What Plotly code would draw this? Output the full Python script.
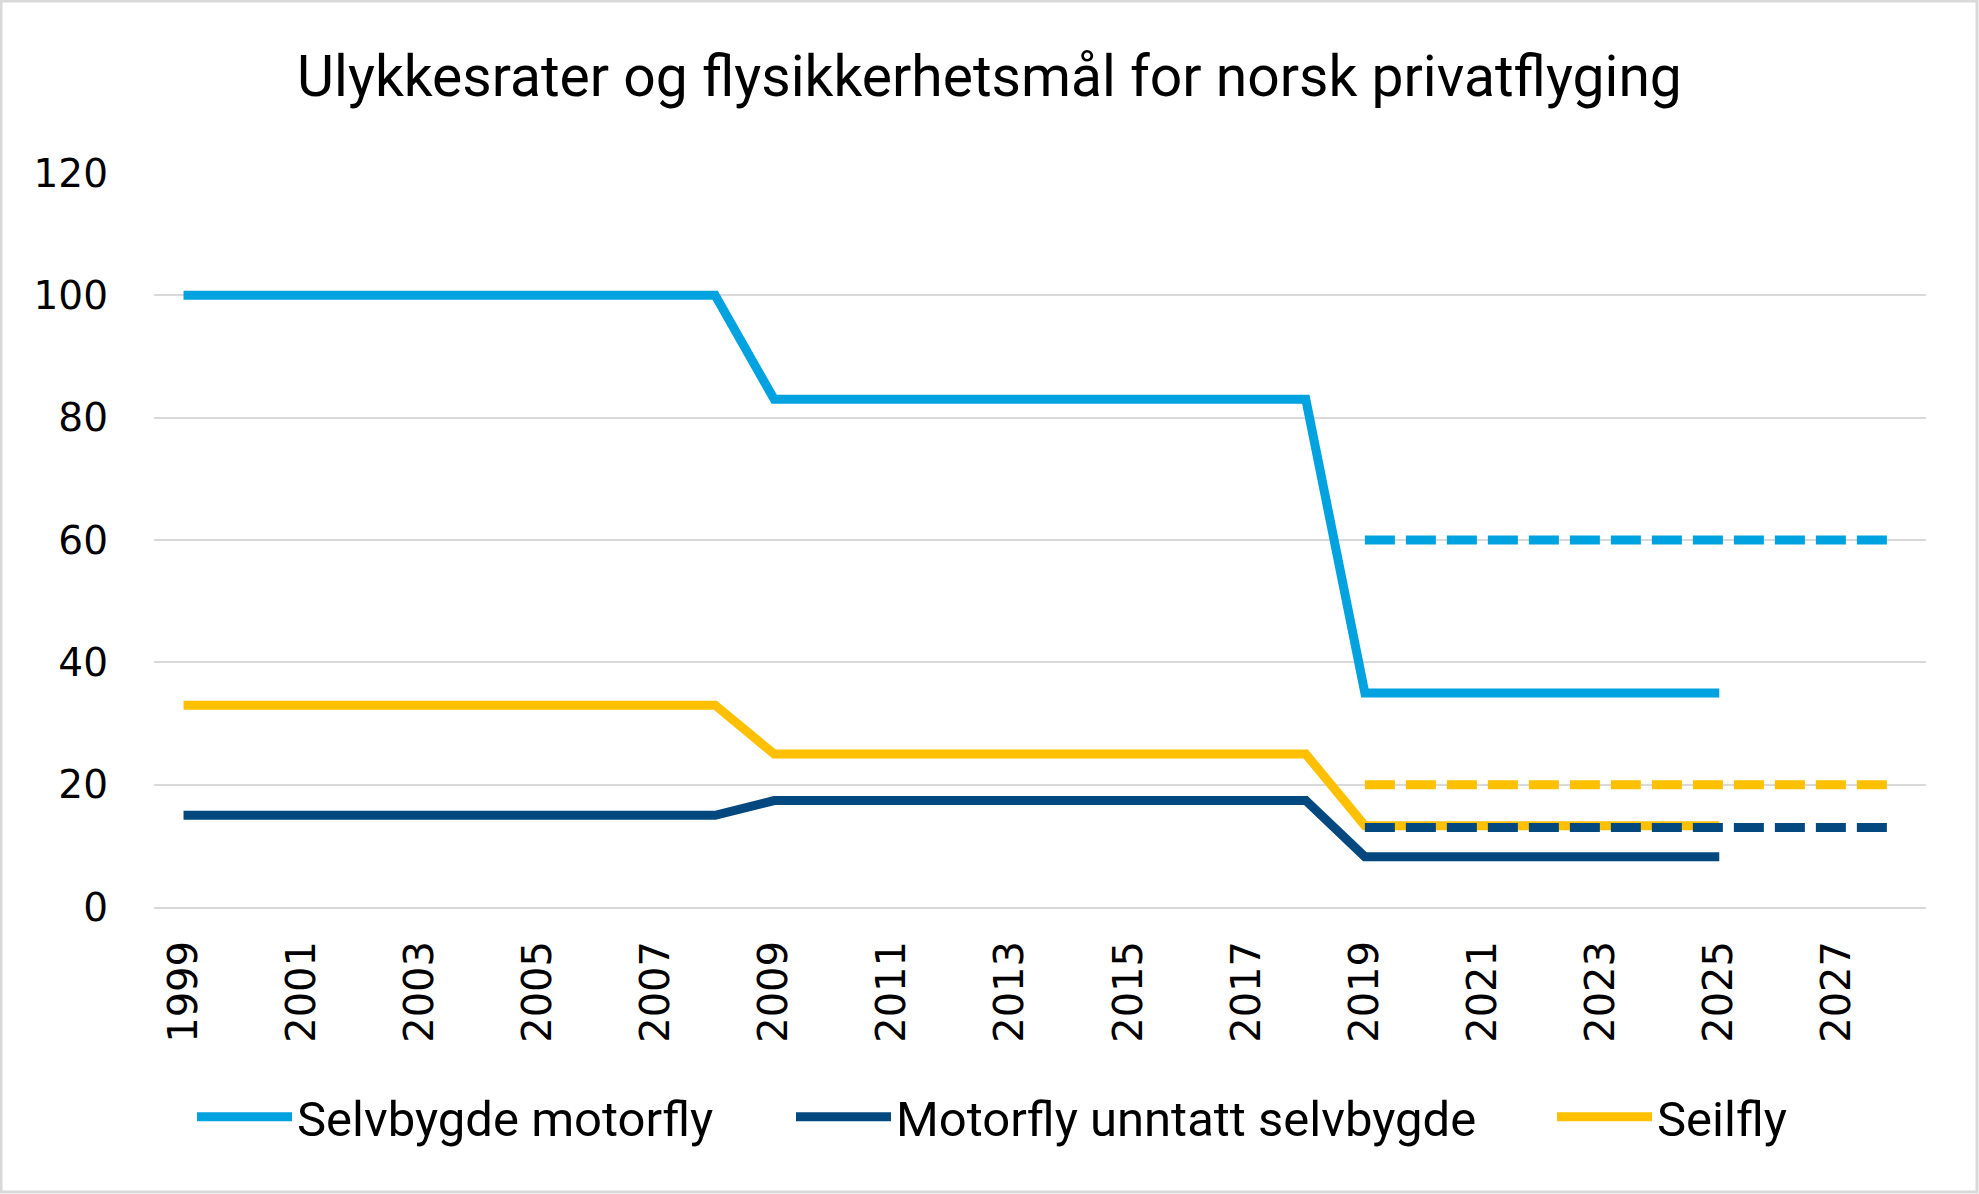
import plotly.graph_objects as go

years_actual = [1999, 2000, 2001, 2002, 2003, 2004, 2005, 2006, 2007, 2008,
                2009, 2010, 2011, 2012, 2013, 2014, 2015, 2016, 2017, 2018,
                2019, 2020, 2021, 2022, 2023, 2024, 2025]
selvbygde = [100, 100, 100, 100, 100, 100, 100, 100, 100, 100,
             83, 83, 83, 83, 83, 83, 83, 83, 83, 83,
             35, 35, 35, 35, 35, 35, 35]
motorfly = [15, 15, 15, 15, 15, 15, 15, 15, 15, 15,
            17.4, 17.4, 17.4, 17.4, 17.4, 17.4, 17.4, 17.4, 17.4, 17.4,
            8.2, 8.2, 8.2, 8.2, 8.2, 8.2, 8.2]
seilfly = [33, 33, 33, 33, 33, 33, 33, 33, 33, 33,
           25, 25, 25, 25, 25, 25, 25, 25, 25, 25,
           13.3, 13.3, 13.3, 13.3, 13.3, 13.3, 13.3]

years_target = [2019, 2020, 2021, 2022, 2023, 2024, 2025, 2026, 2027, 2028]
mal_selvbygde = [60, 60, 60, 60, 60, 60, 60, 60, 60, 60]
mal_motorfly = [13, 13, 13, 13, 13, 13, 13, 13, 13, 13]
mal_seilfly = [20, 20, 20, 20, 20, 20, 20, 20, 20, 20]

tick_years = [1999, 2001, 2003, 2005, 2007, 2009, 2011, 2013, 2015, 2017,
              2019, 2021, 2023, 2025, 2027]
y_ticks = [0, 20, 40, 60, 80, 100, 120]

C_LIGHT = "#00A2DF"
C_NAVY = "#03497F"
C_GOLD = "#FFC000"

W, H = 1979, 1194
L, R, T, B = 154, 53, 173, 287

fig = go.Figure()
lw = 9
fig.add_trace(go.Scatter(x=years_actual, y=selvbygde, mode="lines", name="Selvbygde motorfly",
                         legend="legend", line=dict(color=C_LIGHT, width=lw)))
fig.add_trace(go.Scatter(x=years_actual, y=motorfly, mode="lines", name="Motorfly unntatt selvbygde",
                         legend="legend2", line=dict(color=C_NAVY, width=lw)))
fig.add_trace(go.Scatter(x=years_actual, y=seilfly, mode="lines", name="Seilfly",
                         legend="legend3", line=dict(color=C_GOLD, width=lw)))
dash = "30px,11px"
fig.add_trace(go.Scatter(x=years_target, y=mal_selvbygde, mode="lines", showlegend=False,
                         line=dict(color=C_LIGHT, width=lw, dash=dash)))
fig.add_trace(go.Scatter(x=years_target, y=mal_seilfly, mode="lines", showlegend=False,
                         line=dict(color=C_GOLD, width=lw, dash=dash)))
fig.add_trace(go.Scatter(x=years_target, y=mal_motorfly, mode="lines", showlegend=False,
                         line=dict(color=C_NAVY, width=lw, dash=dash)))

pw = W - L - R
ph = H - T - B

leg_font = dict(family="Roboto, Open Sans", size=49, color="black")
def leg(xpix):
    return dict(orientation="h", xref="container", yref="container",
                x=xpix / W, xanchor="left", y=1 - 1117 / H, yanchor="middle",
                font=leg_font, bgcolor="rgba(0,0,0,0)", itemwidth=95)

fig.update_layout(
    width=W, height=H,
    margin=dict(l=L, r=R, t=T, b=B),
    paper_bgcolor="white", plot_bgcolor="white",
    title=dict(text="Ulykkesrater og flysikkerhetsmål for norsk privatflyging",
               x=0.5, xref="container", xanchor="center", y=1 - 76 / H, yref="container", yanchor="middle",
               font=dict(family="Roboto, Open Sans", size=57, color="black")),
    font=dict(family="DejaVu Sans", color="black"),
    showlegend=True,
    legend=leg(192),
    legend2=leg(791),
    legend3=leg(1552),
    xaxis=dict(range=[1998.5, 2028.5], tickmode="array", tickvals=tick_years,
               ticktext=[str(t) for t in tick_years], tickangle=-90,
               showgrid=False, showline=True, linecolor="#D9D9D9", linewidth=2,
               ticks="", tickfont=dict(size=40, family="DejaVu Sans"), ticklabelstandoff=16,
               zeroline=False),
    yaxis=dict(range=[0, 120], tickmode="array", tickvals=y_ticks, showgrid=True,
               gridcolor="#D9D9D9", gridwidth=2, zeroline=False, showline=False,
               ticks="", tickfont=dict(size=39, family="DejaVu Sans"), ticklabelstandoff=45),
    shapes=[dict(type="rect", xref="paper", yref="paper",
                 x0=-(L - 1) / pw, x1=1 + (R - 2) / pw, y0=-(B - 2) / ph, y1=1 + (T - 1) / ph,
                 line=dict(color="#D9D9D9", width=3), fillcolor="rgba(0,0,0,0)", layer="below")],
)

fig.write_html("out.html")
